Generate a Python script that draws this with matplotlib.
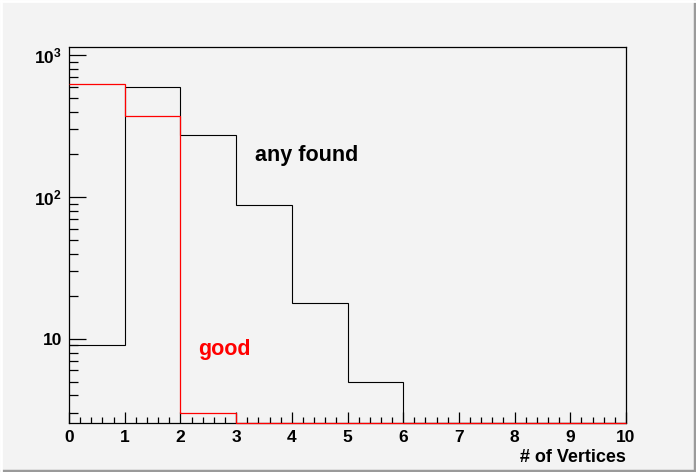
import numpy as np
import matplotlib
matplotlib.use('Agg')
import matplotlib.pyplot as plt
from matplotlib.ticker import FixedLocator, LogLocator, MultipleLocator, NullFormatter

plt.rcParams['font.family'] = ['Liberation Sans', 'DejaVu Sans']
plt.rcParams['font.weight'] = 'bold'
plt.rcParams['mathtext.fontset'] = 'custom'
plt.rcParams['mathtext.rm'] = 'Liberation Sans:bold'
plt.rcParams['mathtext.bf'] = 'Liberation Sans:bold'

# histogram contents, bins 0..10
edges = np.arange(0, 11)
any_found = [9, 596, 274, 88, 18, 5, 0, 0, 0, 0]
good = [626, 372, 3, 0, 0, 0, 0, 0, 0, 0]

ymin, ymax = 2.56, 1140
bg = '#f3f3f3'

fig = plt.figure(figsize=(6.96, 4.72), dpi=100, facecolor=bg)
ax = fig.add_axes([69/696, 49/472, 557/696, 376/472])
ax.set_facecolor(bg)

# zero bins are drawn at the bottom of the frame, like ROOT does
ax.stairs(np.maximum(any_found, ymin), edges, color='black', lw=0.8, baseline=None, zorder=3, clip_on=False)
ax.stairs(np.maximum(good, ymin), edges, color='red', lw=0.9, baseline=None, zorder=4, clip_on=False)

ax.set_yscale('log')
ax.set_xlim(0, 10)
ax.set_ylim(ymin, ymax)

for s in ax.spines.values():
    s.set_linewidth(0.9)

ax.xaxis.set_major_locator(MultipleLocator(1))
ax.xaxis.set_minor_locator(MultipleLocator(0.2))
ax.yaxis.set_major_locator(FixedLocator([10, 100, 1000]))
ax.yaxis.set_minor_locator(LogLocator(base=10, subs=np.arange(2, 10)))
ax.yaxis.set_minor_formatter(NullFormatter())
ax.set_yticklabels(['10', r'$\mathbf{10^{2}}$', r'$\mathbf{10^{3}}$'])

ax.tick_params(axis='x', which='major', direction='in', length=8, width=0.9, labelsize=12.5, pad=5)
ax.tick_params(axis='x', which='minor', direction='in', length=4.3, width=0.9)
ax.tick_params(axis='y', which='major', direction='in', length=12.2, width=0.9, labelsize=12.5, pad=5)
ax.tick_params(axis='y', which='minor', direction='in', length=6.5, width=0.9)

ax.set_xlabel('# of Vertices', fontsize=13, fontweight='bold', loc='right', labelpad=3)

ax.text(3.34, 180, 'any found', fontsize=15.5, fontweight='bold', color='black', va='baseline')
ax.text(2.32, 7.7, 'good', fontsize=15.5, fontweight='bold', color='red', va='baseline')

# raised canvas border
fig.add_artist(plt.Line2D([0, 1], [1.5/472, 1.5/472], transform=fig.transFigure, color='#9a9a9a', lw=2.5))
fig.add_artist(plt.Line2D([1 - 1.5/696, 1 - 1.5/696], [0, 1], transform=fig.transFigure, color='#9a9a9a', lw=2.5))
fig.add_artist(plt.Line2D([0, 1], [1 - 1/472, 1 - 1/472], transform=fig.transFigure, color='white', lw=2))
fig.add_artist(plt.Line2D([1/696, 1/696], [0, 1], transform=fig.transFigure, color='white', lw=2))

fig.savefig('out.png', dpi=100, facecolor=bg)
